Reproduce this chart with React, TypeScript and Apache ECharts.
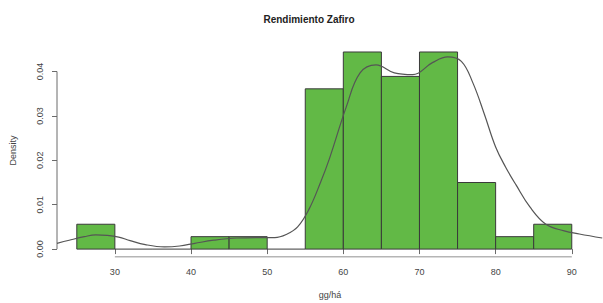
import React, { useEffect, useRef } from "react";
import * as echarts from "echarts";

// Histogram bins (gg/há) and densities
const binStarts = [25, 30, 35, 40, 45, 50, 55, 60, 65, 70, 75, 80, 85];
const binWidth = 5;
const densities = [0.0056, 0, 0, 0.0028, 0.0028, 0, 0.0361, 0.0444, 0.0389, 0.0444, 0.015, 0.0028, 0.0056];

// Kernel density curve (x, density)
const curveX = [22.4, 24, 26, 27.5, 29, 30.5, 32, 34, 36.5, 38.5, 40.5, 43, 46, 49, 51, 52.5, 54, 55.5, 57, 58.2, 60.4, 62.2, 64.3, 66.7, 69.1, 71.7, 73.7, 75.5, 77, 78.5, 80, 81.3, 82.7, 84.5, 86.6, 89, 91, 94];
const curveY = [0.0013, 0.002, 0.0028, 0.0032, 0.0031, 0.0027, 0.0019, 0.001, 0.0005, 0.0007, 0.0013, 0.002, 0.0025, 0.0026, 0.0026, 0.0033, 0.005, 0.009, 0.015, 0.0205, 0.0321, 0.0397, 0.0415, 0.0397, 0.0393, 0.042, 0.0433, 0.0423, 0.0375, 0.0305, 0.023, 0.0185, 0.0144, 0.0095, 0.0056, 0.0041, 0.0034, 0.0025];

const xTicks = [30, 40, 50, 60, 70, 80, 90];
const yTicks = [0, 0.01, 0.02, 0.03, 0.04];

const X_MIN = 22.4;
const X_MAX = 94.1;
const Y_MIN = -0.00178;
const Y_MAX = 0.0462;

const FONT = "'Liberation Sans', Arial, Helvetica, sans-serif";
const AXIS_COLOR = "#6b6b6b";
const TEXT_COLOR = "#444";

export default function App() {
  const ref = useRef<HTMLDivElement>(null);
  useEffect(() => {
    if (!ref.current) return;
    const chart = echarts.init(ref.current, null, { renderer: "svg" });
    const barData = binStarts.map((s, i) => [s, s + binWidth, densities[i]]);
    chart.setOption({
      animation: false,
      backgroundColor: "#ffffff",
      title: {
        text: "Rendimiento Zafiro",
        left: 304,
        top: 9,
        textAlign: "center",
        textStyle: { fontFamily: FONT, fontSize: 10, fontWeight: "bold", color: "#222" },
      },
      grid: { left: 57, right: 0, top: 44, bottom: 46, containLabel: false, outerBoundsMode: "none" },
      xAxis: {
        type: "value",
        min: X_MIN,
        max: X_MAX,
        axisLine: { show: false },
        splitLine: { show: false },
        axisTick: { show: true, customValues: xTicks, length: 5, lineStyle: { color: AXIS_COLOR } },
        axisLabel: {
          customValues: xTicks,
          margin: 10,
          fontFamily: FONT,
          fontSize: 9,
          color: TEXT_COLOR,
        },
        name: "gg/há",
        nameLocation: "middle",
        nameGap: 33,
        nameTextStyle: { fontFamily: FONT, fontSize: 9, color: TEXT_COLOR },
      },
      yAxis: {
        type: "value",
        min: Y_MIN,
        max: Y_MAX,
        axisLine: { show: false },
        splitLine: { show: false },
        axisTick: { show: true, customValues: yTicks, length: 5, lineStyle: { color: AXIS_COLOR } },
        axisLabel: {
          customValues: yTicks,
          rotate: 90,
          margin: 13,
          fontFamily: FONT,
          fontSize: 9,
          color: TEXT_COLOR,
          formatter: (v: number) => v.toFixed(2),
        },
        name: "Density",
        nameLocation: "middle",
        nameGap: 40,
        nameRotate: 90,
        nameTextStyle: { fontFamily: FONT, fontSize: 9, color: TEXT_COLOR },
      },
      series: [
        {
          type: "custom",
          data: barData,
          z: 2,
          renderItem: (params: any, api: any) => {
            const lo = api.value(0);
            const hi = api.value(1);
            const d = api.value(2);
            const p0 = api.coord([lo, 0]);
            const p1 = api.coord([hi, d]);
            if (d <= 0) {
              return {
                type: "line",
                shape: { x1: p0[0], y1: p0[1], x2: p1[0], y2: p0[1] },
                style: { stroke: "#3a3a3a", lineWidth: 1 },
              };
            }
            return {
              type: "rect",
              shape: { x: p0[0], y: p1[1], width: p1[0] - p0[0], height: p0[1] - p1[1] },
              style: { fill: "#62b946", stroke: "#3a3a3a", lineWidth: 1 },
            };
          },
        },
        {
          type: "line",
          data: curveX.map((x, i) => [x, curveY[i]]),
          smooth: 0.4,
          showSymbol: false,
          z: 3,
          lineStyle: { color: "#555", width: 1.2 },
        },
        {
          type: "line",
          data: [[xTicks[0], Y_MIN], [xTicks[xTicks.length - 1], Y_MIN]],
          showSymbol: false,
          z: 1,
          lineStyle: { color: AXIS_COLOR, width: 1 },
        },
        {
          type: "line",
          data: [[X_MIN, yTicks[0]], [X_MIN, yTicks[yTicks.length - 1]]],
          showSymbol: false,
          z: 1,
          lineStyle: { color: AXIS_COLOR, width: 1 },
        },
      ],
    });
    return () => chart.dispose();
  }, []);
  return (
    <div
      ref={ref}
      style={{ position: "fixed", left: 0, top: 0, width: 603, height: 303 }}
    />
  );
}
